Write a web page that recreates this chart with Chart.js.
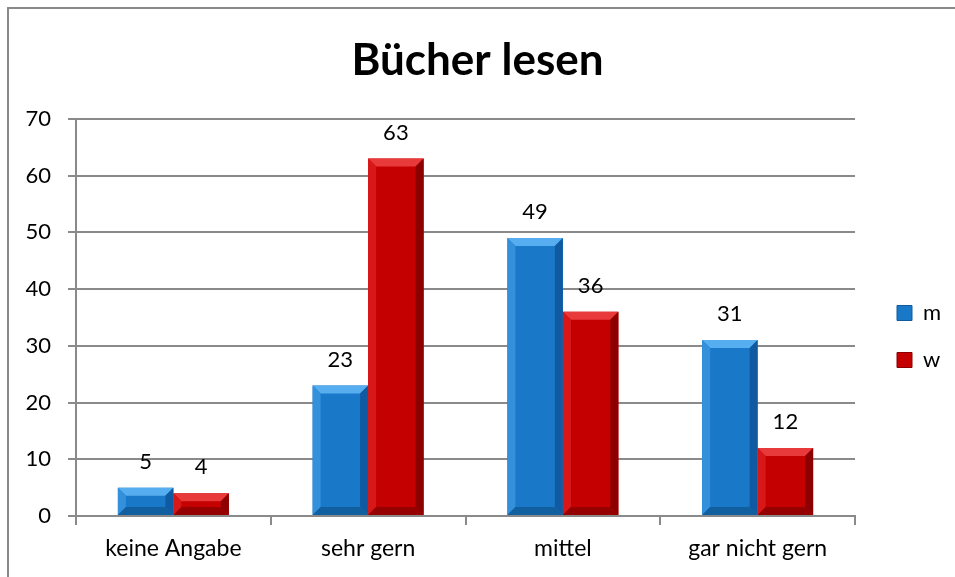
<!DOCTYPE html>
<html>
<head>
<meta charset="utf-8">
<script src="https://cdn.jsdelivr.net/npm/chart.js@4"></script>
<style>
  html, body { margin: 0; padding: 0; background: #fff; }
  #frame { position: absolute; left: 7px; top: 7px; width: 1000px; height: 1000px;
           border-left: 2px solid #8a8a8a; border-top: 2px solid #8a8a8a; }
  #wrap { position: absolute; left: 0; top: 0; width: 955px; height: 577px; }
</style>
</head>
<body>
<div id="frame"></div>
<div id="wrap"><canvas id="chart"></canvas></div>
<script>
const categories = ['keine Angabe', 'sehr gern', 'mittel', 'gar nicht gern'];
const mValues = [5, 23, 49, 31];
const wValues = [4, 63, 36, 12];
const yMin = 0, yMax = 70, yStep = 10;

const FONT = 'Lato, "Open Sans", sans-serif';
const GRID = '#8a8a8a';

// bevel colours per dataset: [light top, light left, dark right, dark bottom]
const bevels = [
    ['#56aef0', '#3590dc', '#0f5aa0', '#125f9f'],
    ['#e83a3a', '#d81818', '#8c0000', '#950000']
];

const bevelPlugin = {
    id: 'bevel',
    afterDatasetsDraw(chart) {
        const ctx = chart.ctx;
        chart.data.datasets.forEach((ds, di) => {
            const c = bevels[di];
            chart.getDatasetMeta(di).data.forEach(bar => {
                const l = bar.x - bar.width / 2, r = bar.x + bar.width / 2;
                const t = bar.y, b = bar.base;
                const e = Math.min(8, (b - t) / 2);
                const poly = (pts, col) => {
                    ctx.beginPath();
                    ctx.moveTo(pts[0][0], pts[0][1]);
                    pts.slice(1).forEach(p => ctx.lineTo(p[0], p[1]));
                    ctx.closePath();
                    ctx.fillStyle = col;
                    ctx.fill();
                };
                ctx.save();
                poly([[l, t], [r, t], [r - e, t + e], [l + e, t + e]], c[0]);
                poly([[l, t], [l + e, t + e], [l + e, b - e], [l, b]], c[1]);
                poly([[r, t], [r, b], [r - e, b - e], [r - e, t + e]], c[2]);
                poly([[l, b], [l + e, b - e], [r - e, b - e], [r, b]], c[3]);
                ctx.restore();
            });
        });
    }
};

const valueLabels = {
    id: 'valueLabels',
    afterDatasetsDraw(chart) {
        const ctx = chart.ctx;
        ctx.save();
        ctx.font = '22px ' + FONT;
        ctx.fillStyle = '#000';
        ctx.textAlign = 'center';
        ctx.textBaseline = 'middle';
        chart.data.datasets.forEach((ds, di) => {
            chart.getDatasetMeta(di).data.forEach((bar, i) => {
                ctx.fillText(ds.data[i], bar.x, bar.y - 26);
            });
        });
        ctx.restore();
    }
};

// fixed legend width so the swatches sit where the reference has them
const legendWidth = {
    id: 'legendWidth',
    beforeLayout(chart) {
        const lg = chart.legend;
        if (lg && !lg._patched) {
            const fit = lg.fit;
            lg.fit = function () { fit.call(this); this.width = 83; };
            lg._patched = true;
        }
    }
};

new Chart(document.getElementById('chart'), {
    type: 'bar',
    data: {
        labels: categories,
        datasets: [
            { label: 'm', data: mValues, backgroundColor: '#1a78c8', borderWidth: 0 },
            { label: 'w', data: wValues, backgroundColor: '#c40000', borderWidth: 0 }
        ]
    },
    options: {
        responsive: true,
        maintainAspectRatio: false,
        animation: false,
        layout: { padding: 0 },
        datasets: { bar: { categoryPercentage: 0.57, barPercentage: 1 } },
        plugins: {
            title: {
                display: true,
                text: 'Bücher lesen',
                color: '#000',
                font: { family: FONT, size: 44, weight: 'bold' },
                padding: { top: 34, bottom: 32 }
            },
            legend: {
                position: 'right',
                title: { display: true, text: '', font: { size: 10, lineHeight: 1 }, padding: { top: 0, bottom: 86 } },
                labels: {
                    color: '#000',
                    font: { family: FONT, size: 22 },
                    boxWidth: 15,
                    boxHeight: 15,
                    padding: 25,
                    generateLabels(chart) {
                        return chart.data.datasets.map((ds, i) => ({
                            text: ds.label,
                            fillStyle: ds.backgroundColor,
                            strokeStyle: bevels[i][2],
                            fontColor: '#000',
                            lineWidth: 1,
                            hidden: false,
                            datasetIndex: i
                        }));
                    }
                }
            },
            tooltip: { enabled: false }
        },
        scales: {
            x: {
                grid: { offset: true, drawOnChartArea: false, drawTicks: true, tickLength: 9, color: GRID, lineWidth: 2 },
                border: { color: GRID, width: 2 },
                ticks: { color: '#000', font: { family: FONT, size: 23 }, padding: 10 },
                afterFit(s) { s.height = 61; }
            },
            y: {
                min: yMin,
                max: yMax,
                grid: { color: GRID, lineWidth: 2, tickLength: 8 },
                border: { color: GRID, width: 2 },
                ticks: { stepSize: yStep, color: '#000', font: { family: FONT, size: 22 }, padding: 17 },
                afterFit(s) { s.width = 76; }
            },
            pad: {
                type: 'linear',
                position: 'right',
                display: true,
                grid: { display: false, drawTicks: false },
                border: { display: false },
                ticks: { display: false },
                afterFit(s) { s.width = 17; }
            }
        }
    },
    plugins: [legendWidth, bevelPlugin, valueLabels]
});
</script>
</body>
</html>
